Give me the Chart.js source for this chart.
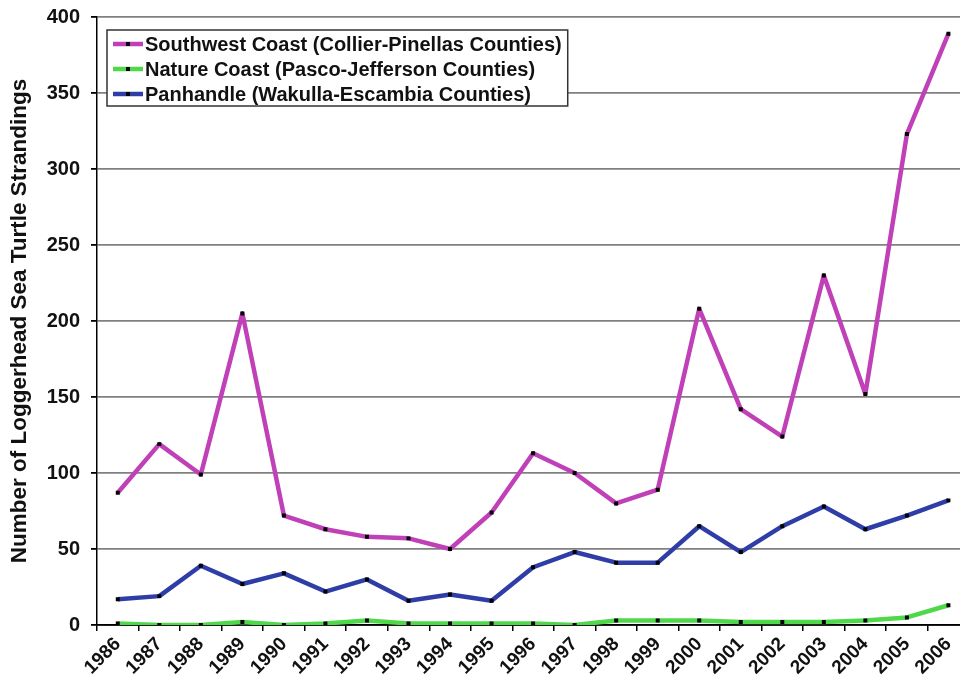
<!DOCTYPE html>
<html>
<head>
<meta charset="utf-8">
<script src="https://cdn.jsdelivr.net/npm/chart.js@4/dist/chart.umd.min.js"></script>
<style>
  html, body { margin: 0; padding: 0; background: #fff; overflow: hidden; }
  #wrap { width: 972px; height: 687px; }
</style>
</head>
<body>
<div id="wrap"><canvas id="strandings" width="972" height="687"></canvas></div>
<script>
// Loggerhead strandings by region, 1986-2006
const years = ['1986', '1987', '1988', '1989', '1990', '1991', '1992', '1993', '1994', '1995', '1996',
  '1997', '1998', '1999', '2000', '2001', '2002', '2003', '2004', '2005', '2006'];

const southwest = [87, 119, 99, 205, 72, 63, 58, 57, 50, 74, 113, 100, 80, 89, 208, 142, 124, 230, 152, 323, 389];
const natureCoast = [1, 0, 0, 2, 0, 1, 3, 1, 1, 1, 1, 0, 3, 3, 3, 2, 2, 2, 3, 5, 13];
const panhandle = [17, 19, 39, 27, 34, 22, 30, 16, 20, 16, 38, 48, 41, 41, 65, 48, 65, 78, 63, 72, 82];

const yTicks = [0, 50, 100, 150, 200, 250, 300, 350, 400];

const FONT = '"Liberation Sans", Arial, sans-serif';

function series(label, data, color) {
  return {
    label: label,
    data: data,
    borderColor: color,
    backgroundColor: '#000',
    borderWidth: 4.5,
    borderJoinStyle: 'round',
    tension: 0,
    pointStyle: 'rect',
    pointRadius: 2.8,
    pointBorderWidth: 0,
    pointBackgroundColor: '#000',
    pointHoverRadius: 2.8,
  };
}

// boxed legend sitting inside the plot, top left
const insideLegend = {
  id: 'insideLegend',
  afterDraw(chart) {
    const ctx = chart.ctx;
    const x0 = 107, y0 = 30, rowH = 25, h = 76;
    ctx.save();
    ctx.font = 'bold 20px ' + FONT;
    let maxW = 0;
    chart.data.datasets.forEach(ds => { maxW = Math.max(maxW, ctx.measureText(ds.label).width); });
    const w = 145 - x0 + maxW + 6;
    ctx.fillStyle = '#fff';
    ctx.fillRect(x0, y0, w, h);
    ctx.strokeStyle = '#333';
    ctx.lineWidth = 1.5;
    ctx.strokeRect(x0, y0, w, h);
    chart.data.datasets.forEach((ds, i) => {
      const cy = y0 + 14 + i * rowH;
      ctx.strokeStyle = ds.borderColor;
      ctx.lineWidth = 4.5;
      ctx.beginPath();
      ctx.moveTo(113, cy);
      ctx.lineTo(143, cy);
      ctx.stroke();
      ctx.fillStyle = '#000';
      ctx.fillRect(126, cy - 2, 4, 4);
      ctx.fillStyle = '#111';
      ctx.textAlign = 'left';
      ctx.textBaseline = 'middle';
      ctx.fillText(ds.label, 145, cy + 1);
    });
    ctx.restore();
  }
};

new Chart(document.getElementById('strandings'), {
  type: 'line',
  data: {
    labels: years,
    datasets: [
      series('Southwest Coast (Collier-Pinellas Counties)', southwest, '#c040b8'),
      series('Nature Coast (Pasco-Jefferson Counties)', natureCoast, '#4fd84a'),
      series('Panhandle (Wakulla-Escambia Counties)', panhandle, '#2f3da6'),
    ]
  },
  options: {
    responsive: false,
    animation: false,
    layout: { padding: { top: 17, left: 0, right: 2, bottom: 0 } },
    plugins: {
      legend: { display: false },
      tooltip: { enabled: false },
    },
    scales: {
      x: {
        type: 'category',
        offset: true,
        grid: {
          offset: true,
          drawOnChartArea: false,
          drawTicks: true,
          tickLength: 6,
          color: '#000',
          lineWidth: 1.5,
        },
        border: { color: '#000', width: 1.5 },
        ticks: {
          color: '#111',
          font: { family: FONT, size: 19, weight: 'bold' },
          minRotation: 45,
          maxRotation: 45,
          autoSkip: false,
          padding: 2,
        },
        afterFit(scale) { scale.height = 62; },
      },
      y: {
        min: 0,
        max: 400,
        afterBuildTicks(scale) { scale.ticks = yTicks.map(v => ({ value: v })); },
        grid: {
          color: ctx => ctx.tick && ctx.tick.value === 0 ? '#000' : '#808080',
          lineWidth: 1.8,
          tickColor: '#000',
          tickLength: 6,
        },
        border: { color: '#000', width: 1.5 },
        ticks: {
          color: '#111',
          font: { family: FONT, size: 20, weight: 'bold' },
          padding: 11,
        },
        title: {
          display: true,
          text: 'Number of Loggerhead Sea Turtle Strandings',
          color: '#111',
          font: { family: FONT, size: 22.5, weight: 'bold' },
          padding: { top: 6, bottom: 0 },
        },
        afterFit(scale) {
          scale.width = 97;
          scale.paddingTop = 0;
          scale.paddingBottom = 0;
        },
      }
    }
  },
  plugins: [insideLegend]
});
</script>
</body>
</html>
